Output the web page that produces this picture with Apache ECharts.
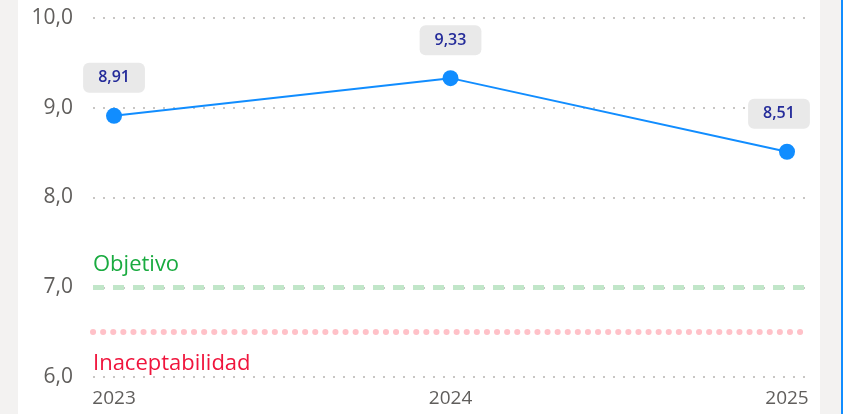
<!DOCTYPE html>
<html>
<head>
<meta charset="utf-8">
<script src="https://cdn.jsdelivr.net/npm/echarts@6/dist/echarts.min.js"></script>
<style>
  html, body { margin: 0; padding: 0; width: 843px; height: 414px; overflow: hidden; background: #f3f2f1; }
  #panel { position: absolute; left: 18px; top: 0; width: 802px; height: 414px; background: #fff; }
  #edge { position: absolute; left: 841px; top: 0; width: 2px; height: 414px; background: #118dff; }
  #main { position: absolute; left: 0; top: 0; width: 843px; height: 414px; }
</style>
</head>
<body>
<div id="panel"></div>
<div id="edge"></div>
<div id="main"></div>
<script>
// valores
var years = [2023, 2024, 2025];
var values = [8.91, 9.33, 8.51];
var objetivo = 7.0;
var inaceptabilidad = 6.5;

function coma(v, d) {
  return v.toFixed(d).replace(".", ",");
}

var fontFam = "'Open Sans', 'Noto Sans', sans-serif";

var seriesData = [];
for (var i = 0; i < years.length; i++) {
  var item = { value: [years[i], values[i]] };
  // la última etiqueta queda un poco a la izquierda
  if (i === years.length - 1) item.label = { offset: [-8, 0] };
  seriesData.push(item);
}

var myChart = echarts.init(document.getElementById("main"));
myChart.setOption({
  animation: false,
  grid: { left: 93, right: 38, top: 18, bottom: 37 },
  xAxis: {
    type: "value",
    min: 2022.9375,
    max: 2025.0535,
    axisLine: { show: false },
    axisTick: { show: false },
    splitLine: { show: false },
    axisLabel: {
      customValues: years,
      color: "#605e5c",
      fontSize: 19,
      fontFamily: fontFam,
      margin: 12,
      formatter: function (v) { return String(Math.round(v)); }
    }
  },
  yAxis: {
    type: "value",
    min: 6,
    max: 10,
    interval: 1,
    axisLine: { show: false },
    axisTick: { show: false },
    axisLabel: {
      color: "#605e5c",
      fontSize: 21,
      fontFamily: fontFam,
      margin: 20,
      formatter: function (v) { return coma(v, 1); }
    },
    splitLine: {
      lineStyle: { color: "#c8c6c4", width: 2, type: [2, 8] }
    }
  },
  series: [
    {
      type: "line",
      data: seriesData,
      symbol: "circle",
      symbolSize: 16,
      itemStyle: { color: "#118dff" },
      lineStyle: { color: "#118dff", width: 2 },
      label: {
        show: true,
        position: "top",
        distance: 15,
        formatter: function (p) { return coma(p.value[1], 2); },
        color: "#252c9a",
        fontSize: 16,
        fontWeight: 600,
        fontFamily: fontFam,
        backgroundColor: "#e9e9e9",
        borderRadius: 6,
        padding: [7, 15, 7, 15]
      },
      markLine: {
        silent: true,
        symbol: "none",
        data: [
          {
            yAxis: objetivo,
            lineStyle: { color: "#c1e6c9", width: 5, type: [11, 9], cap: "butt" },
            label: {
              show: true,
              position: "insideStartTop",
              formatter: "Objetivo",
              color: "#1aab40",
              fontSize: 22,
              fontFamily: fontFam,
              distance: [0, 12]
            }
          },
          {
            yAxis: inaceptabilidad,
            lineStyle: { color: "#ffc1c8", width: 6, type: [0.1, 10], cap: "round" },
            label: {
              show: true,
              position: "insideStartBottom",
              formatter: "Inaceptabilidad",
              color: "#f0143c",
              fontSize: 22,
              fontFamily: fontFam,
              distance: [0, 21]
            }
          }
        ]
      }
    }
  ]
});
</script>
</body>
</html>
